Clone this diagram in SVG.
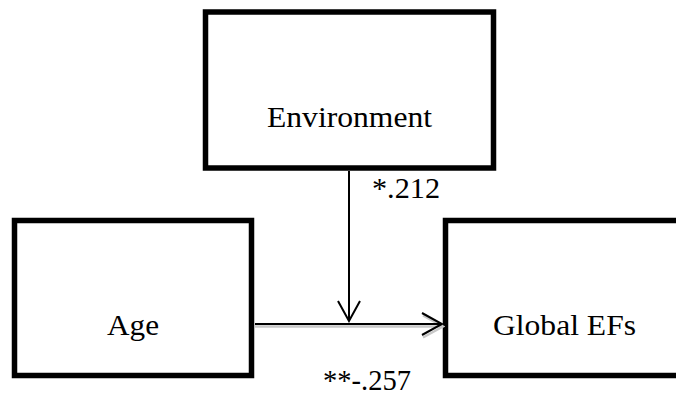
<svg xmlns="http://www.w3.org/2000/svg" width="676" height="395" viewBox="0 0 676 395">
<style>
.box{fill:#fff;stroke:#000;stroke-width:5.5}
text{font-family:'Liberation Serif','Times New Roman',serif;font-size:30px;fill:#000}
.con{stroke:#000;stroke-width:2;fill:none}
.sh{stroke:#c8c8c8;stroke-width:2.5;fill:none}
</style>
<defs>
<marker id="arr" viewBox="0 0 24 26" refX="22" refY="13" markerWidth="24" markerHeight="26" markerUnits="userSpaceOnUse" orient="auto">
<path d="M2,2 L22,13 L2,24" fill="none" stroke="#000" stroke-width="2"/>
</marker>
<marker id="arrs" viewBox="0 0 24 26" refX="22" refY="13" markerWidth="24" markerHeight="26" markerUnits="userSpaceOnUse" orient="auto">
<path d="M2,2 L22,13 L2,24" fill="none" stroke="#c8c8c8" stroke-width="2.5"/>
</marker>
</defs>
<rect width="676" height="395" fill="#fff"/>
<g id="environment">
<rect class="box" x="205.5" y="12" width="288" height="156"/>
<text x="267" y="127" textLength="165" lengthAdjust="spacingAndGlyphs">Environment</text>
</g>
<g id="age">
<rect class="box" x="14.5" y="220.5" width="237" height="155"/>
<text x="107" y="335" textLength="52" lengthAdjust="spacingAndGlyphs">Age</text>
</g>
<g id="global-efs">
<rect class="box" x="445.5" y="220.5" width="240" height="155"/>
<text x="493" y="335" textLength="143" lengthAdjust="spacingAndGlyphs">Global EFs</text>
</g>
<g id="connectors">
<line class="sh" x1="255" y1="326.5" x2="443" y2="326.5" marker-end="url(#arrs)"/>
<line class="con" x1="255" y1="324" x2="442" y2="324" marker-end="url(#arr)"/>
<line class="con" x1="349" y1="171" x2="349" y2="321" marker-end="url(#arr)"/>
<text x="372" y="198" textLength="68" lengthAdjust="spacingAndGlyphs">*.212</text>
<text x="323" y="390" textLength="88" lengthAdjust="spacingAndGlyphs">**-.257</text>
</g>
</svg>
